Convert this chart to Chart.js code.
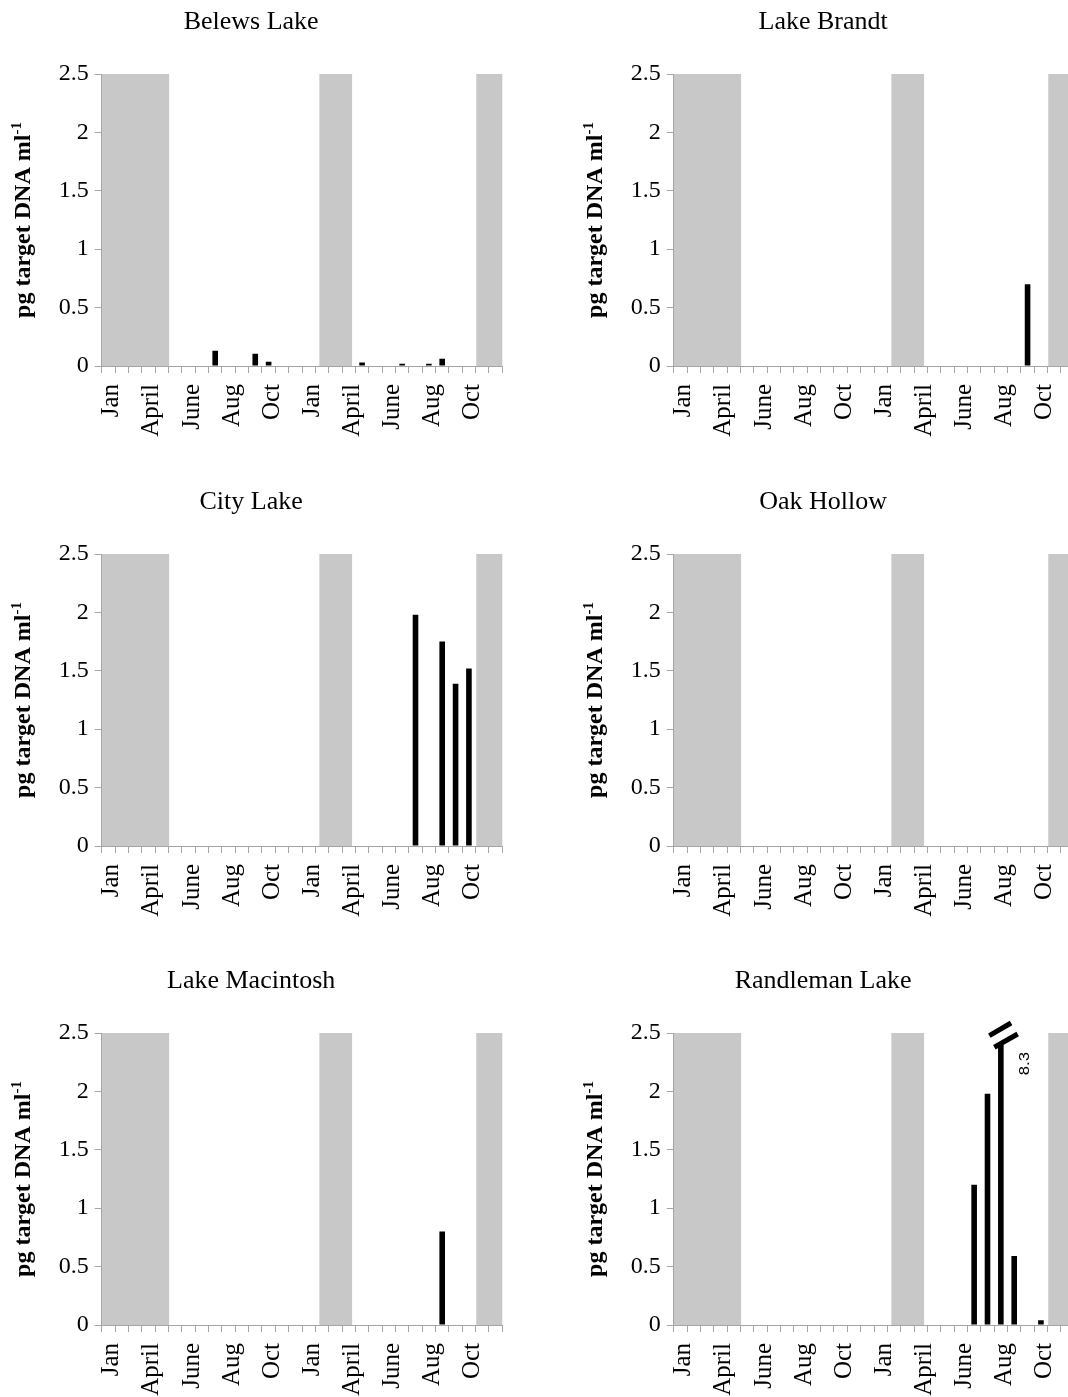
<!DOCTYPE html>
<html>
<head>
<meta charset="utf-8">
<script src="https://cdn.jsdelivr.net/npm/chart.js@4"></script>
<style>
  html, body { margin: 0; padding: 0; background: #fff; }
  body { width: 1068px; height: 1397px; overflow: hidden; position: relative; }
  canvas { position: absolute; }
</style>
</head>
<body>
<canvas id="belews" width="506" height="479" style="left:0px;top:0px"></canvas>
<canvas id="brandt" width="506" height="479" style="left:572px;top:0px"></canvas>
<canvas id="city" width="506" height="479" style="left:0px;top:480px"></canvas>
<canvas id="oak" width="506" height="479" style="left:572px;top:480px"></canvas>
<canvas id="macintosh" width="506" height="479" style="left:0px;top:959px"></canvas>
<canvas id="randleman" width="506" height="479" style="left:572px;top:959px"></canvas>
<script>
"use strict";

// sampling dates, only some of them labelled
const monthLabels = [
  "Jan", "", "", "April", "", "", "June", "", "", "Aug", "", "", "Oct", "", "",
  "Jan", "", "", "April", "", "", "June", "", "", "Aug", "", "", "Oct", "", "",
];
const yTicks = [0, 0.5, 1, 1.5, 2, 2.5];

// grey (not sampled) periods, in category units
const greyStart = [0, 16.3, 28.05];
const greyEnd = [5.05, 18.75, 30];

const belews = [0, 0, 0, 0, 0, 0, 0, 0, 0.13, 0, 0, 0.105, 0.037, 0, 0, 0, 0, 0, 0, 0.03, 0, 0, 0.02, 0, 0.02, 0.063, 0, 0, 0, 0];
const brandt = [0, 0, 0, 0, 0, 0, 0, 0, 0, 0, 0, 0, 0, 0, 0, 0, 0, 0, 0, 0, 0, 0, 0, 0, 0, 0, 0.7, 0, 0, 0];
const city = [0, 0, 0, 0, 0, 0, 0, 0, 0, 0, 0, 0, 0, 0, 0, 0, 0, 0, 0, 0, 0, 0, 0, 1.98, 0, 1.75, 1.39, 1.52, 0, 0];
const oak = [0, 0, 0, 0, 0, 0, 0, 0, 0, 0, 0, 0, 0, 0, 0, 0, 0, 0, 0, 0, 0, 0, 0, 0, 0, 0, 0, 0, 0, 0];
const macintosh = [0, 0, 0, 0, 0, 0, 0, 0, 0, 0, 0, 0, 0, 0, 0, 0, 0, 0, 0, 0, 0, 0, 0, 0, 0, 0.8, 0, 0, 0, 0];
const randleman = [0, 0, 0, 0, 0, 0, 0, 0, 0, 0, 0, 0, 0, 0, 0, 0, 0, 0, 0, 0, 0, 0, 1.2, 1.98, 8.3, 0.59, 0, 0.04, 0, 0];

const breakAt = 2.4; // off-scale bars are cut here
const axisGrey = "#a5a5a5";
const serif = "'Liberation Serif', 'Times New Roman', serif";

const greyBands = {
  id: "greyBands",
  beforeDatasetsDraw(chart) {
    const { ctx, scales: { x, y } } = chart;
    ctx.save();
    ctx.fillStyle = "#c8c8c8";
    for (let i = 0; i < greyStart.length; i++) {
      const x0 = x.getPixelForValue(greyStart[i] - 0.5);
      const x1 = x.getPixelForValue(greyEnd[i] - 0.5);
      const y0 = y.getPixelForValue(2.5);
      const y1 = y.getPixelForValue(0);
      ctx.fillRect(x0, y0, x1 - x0, y1 - y0);
    }
    ctx.restore();
  },
};

const yTitle = {
  id: "yTitle",
  afterDraw(chart) {
    const { ctx, chartArea } = chart;
    const main = "pg target DNA ml";
    const sup = "-1";
    ctx.save();
    ctx.translate(30, (chartArea.top + chartArea.bottom) / 2);
    ctx.rotate(-Math.PI / 2);
    ctx.fillStyle = "#000";
    ctx.textAlign = "left";
    ctx.textBaseline = "alphabetic";
    ctx.font = "bold 24px " + serif;
    const w1 = ctx.measureText(main).width;
    ctx.font = "bold 15px " + serif;
    const w2 = ctx.measureText(sup).width;
    const start = -(w1 + w2) / 2;
    ctx.font = "bold 24px " + serif;
    ctx.fillText(main, start, 0);
    ctx.font = "bold 15px " + serif;
    ctx.fillText(sup, start + w1, -9);
    ctx.restore();
  },
};

// break marks and value label for bars above the axis
const axisBreak = {
  id: "axisBreak",
  afterDraw(chart) {
    const { ctx } = chart;
    const meta = chart.getDatasetMeta(0);
    randleman.forEach((v, i) => {
      if (v <= 2.5) return;
      const bar = meta.data[i];
      const bx = bar.x;
      const by = bar.y;
      ctx.save();
      ctx.strokeStyle = "#000";
      ctx.lineWidth = 5;
      ctx.beginPath();
      ctx.moveTo(bx - 6.5, by + 2.6);
      ctx.lineTo(bx + 16.8, by - 10.7);
      ctx.moveTo(bx - 11.5, by - 9);
      ctx.lineTo(bx + 10.2, by - 21.7);
      ctx.stroke();
      ctx.translate(bx + 24, by + 19);
      ctx.rotate(-Math.PI / 2);
      ctx.scale(1.2, 1);
      ctx.fillStyle = "#000";
      ctx.font = "14px 'Liberation Sans', Arial, sans-serif";
      ctx.textAlign = "center";
      ctx.textBaseline = "middle";
      ctx.fillText(String(v), 0, 0);
      ctx.restore();
    });
  },
};

function makeChart(id, title, values, extra) {
  return new Chart(document.getElementById(id), {
    type: "bar",
    data: {
      labels: monthLabels,
      datasets: [
        {
          data: values.map((v) => Math.min(v, breakAt > v ? v : breakAt)),
          backgroundColor: "#000000",
          categoryPercentage: 1,
          barPercentage: 0.42,
        },
      ],
    },
    plugins: [greyBands, yTitle].concat(extra || []),
    options: {
      responsive: false,
      animation: false,
      events: [],
      layout: { padding: { left: 0, right: 3.7, top: 0, bottom: 0 } },
      plugins: {
        legend: { display: false },
        tooltip: { enabled: false },
        title: {
          display: true,
          text: title,
          color: "#000",
          font: { family: serif, size: 26, weight: "normal" },
          padding: { top: 6.4, bottom: 36.4 },
        },
      },
      scales: {
        x: {
          offset: true,
          grid: {
            offset: true,
            drawOnChartArea: false,
            tickLength: 7,
            color: axisGrey,
            z: 1,
          },
          border: { color: axisGrey, z: 1 },
          ticks: {
            autoSkip: false,
            minRotation: 90,
            maxRotation: 90,
            padding: 11,
            labelOffset: 3.5,
            color: "#000",
            font: { family: serif, size: 25 },
          },
          afterFit(s) {
            s.height = 113;
            s.paddingLeft = 0;
            s.paddingRight = 0;
          },
        },
        y: {
          min: 0,
          max: 2.5,
          afterBuildTicks(s) {
            s.ticks = yTicks.map((v) => ({ value: v }));
          },
          grid: { drawOnChartArea: false, tickLength: 7, color: axisGrey, z: 1 },
          border: { color: axisGrey, z: 1 },
          ticks: {
            padding: 6,
            color: "#000",
            font: { family: serif, size: 24 },
            callback: (v) => String(v),
          },
          afterFit(s) {
            s.width = 101.7;
          },
        },
      },
    },
  });
}

makeChart("belews", "Belews Lake", belews);
makeChart("brandt", "Lake Brandt", brandt);
makeChart("city", "City Lake", city);
makeChart("oak", "Oak Hollow", oak);
makeChart("macintosh", "Lake Macintosh", macintosh);
makeChart("randleman", "Randleman Lake", randleman, [axisBreak]);
</script>
</body>
</html>
